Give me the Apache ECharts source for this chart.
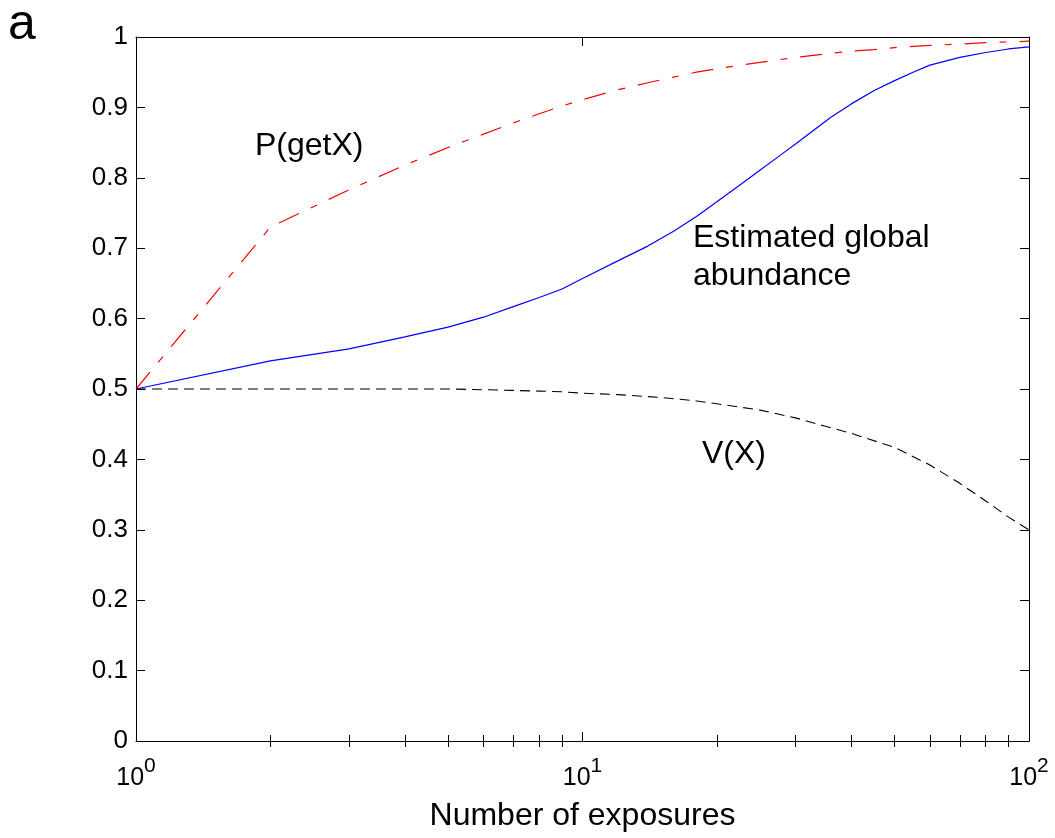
<!DOCTYPE html>
<html><head><meta charset="utf-8">
<script src="https://cdn.jsdelivr.net/npm/echarts@6/dist/echarts.min.js"></script>
<style>html,body{margin:0;padding:0;background:#fff}#c{width:1055px;height:838px}</style>
</head><body><div id="c"></div><script>
// ---- data ----
const pGetX_x = [1,2,3,4,5,6,7,8,9,10,12,14,16,18,20,25,30,35,40,45,50,60,70,80,90,100];
const pGetX_y = [0.500,0.730,0.783,0.818,0.843,0.862,0.878,0.891,0.902,0.911,0.925,0.935,0.943,0.950,0.955,0.964,0.971,0.976,0.980,0.982,0.985,0.988,0.990,0.992,0.993,0.994];

const abundance_x = [1,2,3,4,5,6,7,8,9,10,12,14,16,18,20,23,25,28,30,33,36,40,45,50,55,60,70,80,90,100];
const abundance_y = [0.500,0.540,0.557,0.574,0.588,0.602,0.617,0.630,0.642,0.657,0.682,0.703,0.724,0.745,0.766,0.794,0.811,0.834,0.848,0.868,0.886,0.905,0.924,0.938,0.950,0.960,0.971,0.978,0.983,0.986];

const variance_x = [1,2,3,4,5,6,7,8,9,10,12,15,18,20,25,30,35,40,50,60,70,80,90,100];
const variance_y = [0.500,0.500,0.500,0.500,0.500,0.499,0.498,0.497,0.496,0.494,0.492,0.488,0.483,0.479,0.470,0.459,0.447,0.437,0.417,0.392,0.366,0.341,0.318,0.300];

const xMinorTickValues = [2,3,4,5,6,7,8,9,20,30,40,50,60,70,80,90];
const xTitle = 'Number of exposures';
const annotations = ['P(getX)', 'Estimated global\nabundance', 'V(X)'];
const panelLetter = 'a';

// ---- chart ----
const FONT = 'Arial, "Liberation Sans", sans-serif';
const pairs = (xs, ys) => xs.map((x, i) => [x, ys[i]]);
const minorLog = xMinorTickValues.map(v => Math.log10(v));
const black = '#000';

const chart = echarts.init(document.getElementById('c'), null, {renderer: 'canvas'});
const baseX = {
  gridIndex: 0, splitLine: {show: false},
  axisLine: {show: true, onZero: false, lineStyle: {color: black, width: 1}}
};
chart.setOption({
  animation: false,
  backgroundColor: '#fff',
  grid: {left: 136, right: 26, top: 37, bottom: 97, containLabel: false},
  xAxis: [
    Object.assign({}, baseX, {
      type: 'log', logBase: 10, min: 1, max: 100, position: 'bottom',
      axisTick: {show: true, inside: true, length: 9, lineStyle: {color: black}},
      axisLabel: {
        show: true, margin: 15, color: black, fontFamily: FONT,
        formatter: v => '{b|10}{s|' + Math.round(Math.log10(v)) + '}',
        rich: {
          b: {fontSize: 25, fontFamily: FONT, color: black},
          s: {fontSize: 21, fontFamily: FONT, color: black, padding: [0, 0, 24, 0]}
        }
      },
      name: xTitle, nameLocation: 'middle', nameGap: 59,
      nameTextStyle: {fontSize: 32, fontFamily: FONT, color: black}
    }),
    Object.assign({}, baseX, {
      type: 'log', logBase: 10, min: 1, max: 100, position: 'top',
      axisTick: {show: true, inside: true, length: 9, lineStyle: {color: black}},
      axisLabel: {show: false}
    }),
    Object.assign({}, baseX, {
      type: 'value', min: 0, max: 2, position: 'bottom',
      axisLine: {show: false},
      axisTick: {show: true, inside: true, length: 6, customValues: minorLog, lineStyle: {color: black}},
      axisLabel: {show: false}
    }),
    Object.assign({}, baseX, {
      type: 'value', min: 0, max: 2, position: 'top',
      axisLine: {show: false},
      axisTick: {show: true, inside: true, length: 6, customValues: minorLog, lineStyle: {color: black}},
      axisLabel: {show: false}
    })
  ],
  yAxis: [
    {
      type: 'value', min: 0, max: 1, interval: 0.1, position: 'left',
      splitLine: {show: false},
      axisLine: {show: true, onZero: false, lineStyle: {color: black, width: 1}},
      axisTick: {show: true, inside: true, length: 9, lineStyle: {color: black}},
      axisLabel: {show: true, margin: 8, fontSize: 26, fontFamily: FONT, color: black}
    },
    {
      type: 'value', min: 0, max: 1, interval: 0.1, position: 'right',
      splitLine: {show: false},
      axisLine: {show: true, onZero: false, lineStyle: {color: black, width: 1}},
      axisTick: {show: true, inside: true, length: 9, lineStyle: {color: black}},
      axisLabel: {show: false}
    }
  ],
  series: [
    {
      type: 'line', name: 'P(getX)', xAxisIndex: 0, yAxisIndex: 0,
      data: pairs(pGetX_x, pGetX_y), showSymbol: false, symbol: 'none',
      lineStyle: {color: '#ff0000', width: 1.2, type: [22, 13, 7, 13]}
    },
    {
      type: 'line', name: 'Estimated global abundance', xAxisIndex: 0, yAxisIndex: 0,
      data: pairs(abundance_x, abundance_y), showSymbol: false, symbol: 'none',
      lineStyle: {color: '#0000ff', width: 1.2, type: 'solid'}
    },
    {
      type: 'line', name: 'V(X)', xAxisIndex: 0, yAxisIndex: 0,
      data: pairs(variance_x, variance_y), showSymbol: false, symbol: 'none',
      lineStyle: {color: '#000000', width: 1.1, type: [10, 6]}
    }
  ],
  graphic: [
    {type: 'text', left: 8, top: 0, style: {text: panelLetter, font: '50px ' + FONT, fill: black}},
    {type: 'text', x: 255, y: 146, style: {text: annotations[0], font: '32px ' + FONT, fill: black, verticalAlign: 'middle'}},
    {type: 'text', x: 693, y: 257, style: {text: annotations[1], font: '32px ' + FONT, fill: black, verticalAlign: 'middle', lineHeight: 38}},
    {type: 'text', x: 702, y: 454, style: {text: annotations[2], font: '32px ' + FONT, fill: black, verticalAlign: 'middle'}}
  ]
});
</script></body></html>
